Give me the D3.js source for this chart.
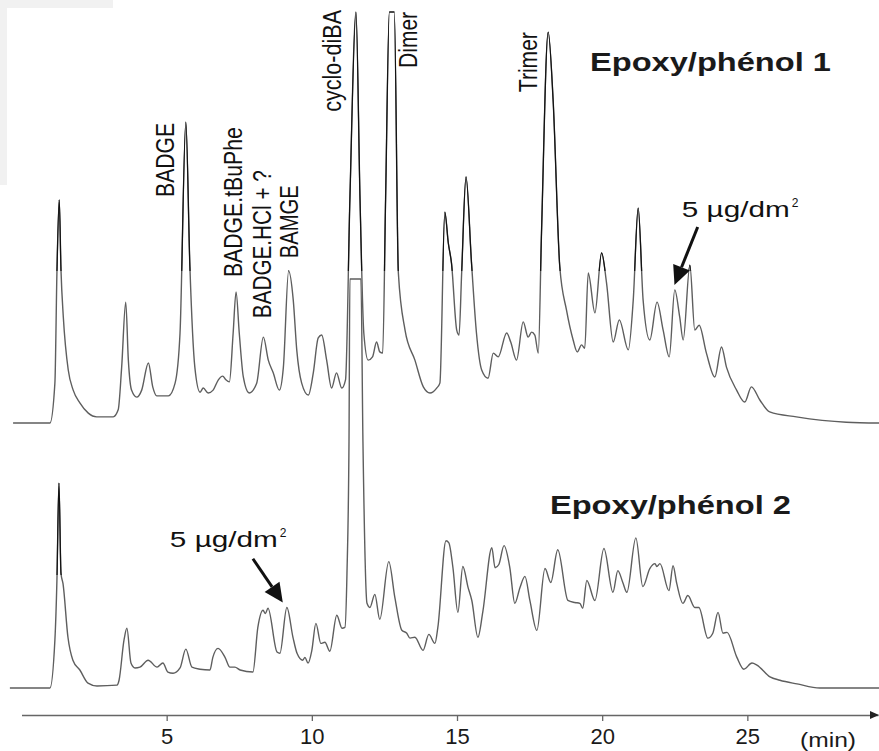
<!DOCTYPE html>
<html>
<head>
<meta charset="utf-8">
<script src="https://cdn.jsdelivr.net/npm/d3@7"></script>
<style>
  body { margin: 0; background: #fff; }
  svg { display: block; font-family: Arial, 'Liberation Sans', sans-serif; }
</style>
</head>
<body>
<div id="chart"></div>
<script>
// retention time (min), detector signal (arbitrary units, 100 = saturation)
const trace1 = [
  [-0.29,0],[0.98,0],[1.15,9.7],[1.22,36.5],[1.30,54.3],[1.36,37.2],[1.44,25.8],[1.61,12.9],[1.78,8.0],
  [2.01,4.9],[2.30,2.4],[2.59,1.5],[3.16,1.5],[3.33,3.2],[3.45,13.6],[3.59,29.4],[3.68,15.3],[3.79,8.0],
  [3.97,6.3],[4.14,8.0],[4.37,14.6],[4.52,8.8],[4.66,6.6],[5.06,6.6],[5.29,9.7],[5.46,21.9],[5.66,73.2],
  [5.80,38.0],[5.97,13.6],[6.15,7.5],[6.26,8.5],[6.43,7.3],[6.60,8.0],[6.78,10.5],[6.93,11.4],[7.04,10.5],
  [7.16,10.0],[7.29,21.9],[7.39,31.9],[7.50,21.9],[7.64,11.2],[7.84,7.3],[8.10,9.7],[8.33,20.9],[8.50,15.3],
  [8.67,12.2],[8.88,8.0],[9.02,13.6],[9.20,37.0],[9.36,29.9],[9.48,17.8],[9.65,9.7],[9.88,6.8],[10.05,12.2],
  [10.22,20.7],[10.34,21.4],[10.51,15.3],[10.68,8.5],[10.85,12.2],[11.03,8.5],[11.16,10.5],[11.31,54.3],
  [11.52,100],[11.66,54.3],[11.79,21.9],[11.94,15.3],[12.09,16.1],[12.23,19.7],[12.34,17.3],[12.44,17.0],
  [12.54,54.3],[12.67,100],[12.84,100],[12.98,36.5],[13.21,22.6],[13.55,15.3],[13.84,8.8],[14.07,7.3],
  [14.30,8.5],[14.41,9.7],[14.58,51.3],[14.70,43.8],[14.81,38.9],[14.99,22.6],[15.07,21.4],[15.16,36.5],
  [15.31,59.9],[15.50,38.9],[15.67,21.9],[15.85,12.9],[16.07,10.9],[16.25,17.0],[16.42,16.1],[16.71,21.9],
  [16.85,19.7],[17.05,15.3],[17.28,24.6],[17.45,20.9],[17.57,22.1],[17.68,21.4],[17.80,17.0],[17.91,46.2],
  [18.14,95.1],[18.31,78.6],[18.54,38.0],[18.77,27.5],[19.00,20.2],[19.14,17.3],[19.29,19.0],[19.40,18.2],
  [19.52,36.5],[19.75,26.8],[19.98,41.4],[20.15,34.1],[20.38,19.7],[20.59,25.1],[20.90,17.8],[21.07,29.9],
  [21.24,52.3],[21.41,29.9],[21.64,20.2],[21.89,29.4],[22.10,22.6],[22.31,16.1],[22.50,32.4],[22.67,25.8],
  [22.79,20.2],[23.02,38.4],[23.19,22.6],[23.34,23.8],[23.59,17.0],[23.88,11.2],[24.11,18.5],[24.28,13.6],
  [24.63,8.0],[24.91,5.1],[25.14,8.8],[25.43,5.6],[25.77,2.7],[26.69,1.5],[28.41,0.2],[29.55,0]
];

const trace2 = [
  [-0.40,0],[0.98,0],[1.15,11.7],[1.22,26.3],[1.29,50.1],[1.36,28.0],[1.43,25.5],[1.60,12.4],[1.77,6.8],
  [2.01,4.4],[2.29,1.2],[2.60,0.5],[3.29,0.7],[3.36,1.9],[3.53,11.7],[3.63,14.6],[3.77,6.1],[3.91,4.9],
  [4.08,5.1],[4.36,6.8],[4.67,5.1],[4.87,6.1],[5.04,3.9],[5.22,3.6],[5.46,4.9],[5.66,9.5],[5.87,5.1],
  [6.15,4.6],[6.49,4.4],[6.59,7.5],[6.77,9.7],[7.01,7.5],[7.18,5.1],[7.35,5.1],[7.53,4.4],[7.97,3.9],
  [8.14,14.8],[8.32,19.0],[8.40,18.2],[8.49,19.5],[8.80,8.8],[8.90,8.5],[9.14,19.7],[9.35,12.4],[9.49,8.5],
  [9.69,6.8],[9.76,7.5],[9.87,6.1],[10.00,9.2],[10.14,15.8],[10.31,10.9],[10.45,11.2],[10.62,9.0],
  [10.86,17.8],[11.04,14.6],[11.14,14.8],[11.21,28.0],[11.28,60.3],[11.31,100],[11.69,100],[11.76,60.3],
  [11.90,20.7],[12.00,19.7],[12.17,22.9],[12.34,16.8],[12.65,30.9],[12.86,22.1],[13.10,14.1],[13.27,13.4],
  [13.38,12.2],[13.55,12.4],[13.83,9.2],[14.03,13.1],[14.24,10.9],[14.34,14.8],[14.62,36.0],[14.72,35.5],
  [14.86,29.4],[15.03,18.5],[15.20,29.7],[15.38,24.6],[15.51,21.4],[15.72,12.4],[15.89,18.7],[16.20,34.3],
  [16.31,29.4],[16.44,30.2],[16.62,34.8],[16.82,29.4],[16.99,20.7],[17.17,24.6],[17.34,27.3],[17.51,21.4],
  [17.75,14.1],[18.03,29.2],[18.23,25.8],[18.47,33.8],[18.82,21.4],[19.06,20.9],[19.23,20.7],[19.33,19.5],
  [19.47,26.3],[19.75,21.4],[20.06,34.1],[20.37,23.4],[20.54,28.7],[20.71,25.8],[20.85,23.4],[21.16,36.7],
  [21.40,24.8],[21.64,29.2],[21.82,30.4],[21.88,29.7],[21.99,30.4],[22.30,23.8],[22.44,29.9],[22.57,25.5],
  [22.78,20.7],[22.95,22.6],[23.19,19.7],[23.33,19.7],[23.64,12.2],[23.81,13.4],[23.99,18.5],[24.16,13.4],
  [24.30,13.6],[24.64,7.5],[24.88,4.6],[25.16,6.1],[25.33,5.6],[25.78,2.7],[26.12,1.9],[26.71,1.0],
  [27.50,0],[29.56,0]
];

const timeTicks = [5, 10, 15, 20, 25];
const timeUnit = '(min)';
const sampleNames = ['Epoxy/phénol 1', 'Epoxy/phénol 2'];

// peak labels on trace 1: name, retention time, signal level where the text starts
const peakLabels = [
  { name: 'BADGE',          t: 5.25,  level: 55.0 },
  { name: 'BADGE.tBuPhe',   t: 7.59,  level: 35.5 },
  { name: 'BADGE.HCl + ?',  t: 8.59,  level: 25.5 },
  { name: 'BAMGE',          t: 9.52,  level: 40.1 },
  { name: 'cyclo-diBA',     t: 11.00, level: 75.7 },
  { name: 'Dimer',          t: 13.62, level: 86.4 },
  { name: 'Trimer',         t: 17.75, level: 80.5 }
];

// "5 µg/dm²" markers: text anchor and arrow from -> to, in (time, signal)
const spikeNotes = [
  { trace: 0, text: [22.74, 50.1], from: [23.29, 47.7], to: [22.49, 33.6] },
  { trace: 1, text: [5.11, 34.5],  from: [7.97, 31.6],  to: [9.00, 20.9] }
];

const width = 879, height = 751;

const svg = d3.select('#chart')
  .append('svg')
  .attr('width', width)
  .attr('height', height);

// scan artefact in the top-left corner
svg.append('path')
  .attr('d', 'M0,0H113V8H7V185H0Z')
  .attr('fill', '#f1f1f1');

const x = d3.scaleLinear().domain([0, 29.5]).range([21.5, 878]);
const yScales = [
  d3.scaleLinear().domain([0, 100]).range([423, 12]),
  d3.scaleLinear().domain([0, 100]).range([688, 279])
];

const defs = svg.append('defs');
defs.append('clipPath').attr('id', 'top1')
  .append('rect').attr('x', 0).attr('y', 0).attr('width', width).attr('height', 271);
defs.append('clipPath').attr('id', 'top2')
  .append('rect').attr('x', 0).attr('y', 440).attr('width', 80).attr('height', 135);

[trace1, trace2].forEach((data, i) => {
  const line = d3.line()
    .x(d => x(d[0]))
    .y(d => yScales[i](d[1]))
    .curve(d3.curveMonotoneX);

  svg.append('path')
    .datum(data)
    .attr('d', line)
    .attr('fill', 'none')
    .attr('stroke', '#5e5e5e')
    .attr('stroke-width', 1.4)
    .attr('stroke-linejoin', 'round');

  // peak tops print darker on the scan
  svg.append('path')
    .datum(data)
    .attr('d', line)
    .attr('clip-path', `url(#top${i + 1})`)
    .attr('fill', 'none')
    .attr('stroke', '#111')
    .attr('stroke-width', 1.2)
    .attr('stroke-linejoin', 'round');
});

// time axis
const axisY = 715;
const axis = svg.append('g')
  .attr('transform', `translate(0,${axisY})`)
  .call(d3.axisBottom(x).tickValues(timeTicks).tickSize(6).tickSizeOuter(0));

axis.select('.domain').attr('stroke', '#666').attr('stroke-width', 1.5);
axis.selectAll('.tick line').attr('stroke', '#666').attr('stroke-width', 1.3);
axis.selectAll('.tick text')
  .attr('y', 13)
  .attr('fill', '#1a1a1a')
  .attr('font-size', 22)
  .attr('font-family', "Arial, 'Liberation Sans', sans-serif");

const xEnd = x.range()[1];
svg.append('path')
  .attr('d', `M${xEnd + 1},${axisY}L${xEnd - 8},${axisY - 4}L${xEnd - 8},${axisY + 4}Z`)
  .attr('fill', '#222');

svg.append('text')
  .attr('x', 800)
  .attr('y', 747)
  .attr('font-size', 20)
  .attr('textLength', 56)
  .attr('lengthAdjust', 'spacingAndGlyphs')
  .attr('fill', '#1a1a1a')
  .text(timeUnit);

// sample titles
const titleAnchors = [[19.58, 85.6], [18.20, 42.6]];
sampleNames.forEach((name, i) => {
  svg.append('text')
    .attr('x', x(titleAnchors[i][0]))
    .attr('y', yScales[i](titleAnchors[i][1]))
    .attr('font-size', 25)
    .attr('font-weight', 'bold')
    .attr('textLength', 241)
    .attr('lengthAdjust', 'spacingAndGlyphs')
    .attr('fill', '#1a1a1a')
    .text(name);
});

// rotated peak names
const labelLength = {
  'BADGE': 74, 'BADGE.tBuPhe': 150, 'BADGE.HCl + ?': 148, 'BAMGE': 73,
  'cyclo-diBA': 102, 'Dimer': 56, 'Trimer': 60
};

svg.append('g')
  .selectAll('text')
  .data(peakLabels)
  .enter().append('text')
  .attr('transform', d => `translate(${x(d.t)},${yScales[0](d.level)}) scale(1.25,1) rotate(-90)`)
  .attr('font-size', 21)
  .attr('textLength', d => labelLength[d.name])
  .attr('lengthAdjust', 'spacingAndGlyphs')
  .attr('fill', '#111')
  .text(d => d.name);

// spiked-level notes with arrows
spikeNotes.forEach(n => {
  const y = yScales[n.trace];
  const tx = x(n.text[0]), ty = y(n.text[1]);
  svg.append('text')
    .attr('x', tx).attr('y', ty)
    .attr('font-size', 22)
    .attr('textLength', 108)
    .attr('lengthAdjust', 'spacingAndGlyphs')
    .attr('fill', '#111')
    .text('5 µg/dm');
  svg.append('text')
    .attr('x', tx + 110).attr('y', ty - 10)
    .attr('font-size', 12)
    .attr('fill', '#111')
    .text('2');

  const x0 = x(n.from[0]), y0 = y(n.from[1]);
  const x1 = x(n.to[0]), y1 = y(n.to[1]);
  const ang = Math.atan2(y1 - y0, x1 - x0);
  const headLen = 19, headHalf = 9;
  const bx = x1 - headLen * Math.cos(ang), by = y1 - headLen * Math.sin(ang);
  const px = -Math.sin(ang) * headHalf, py = Math.cos(ang) * headHalf;

  svg.append('line')
    .attr('x1', x0).attr('y1', y0)
    .attr('x2', bx).attr('y2', by)
    .attr('stroke', '#111')
    .attr('stroke-width', 3);
  svg.append('path')
    .attr('d', `M${x1},${y1}L${bx + px},${by + py}L${bx - px},${by - py}Z`)
    .attr('fill', '#111');
});
</script>
</body>
</html>
